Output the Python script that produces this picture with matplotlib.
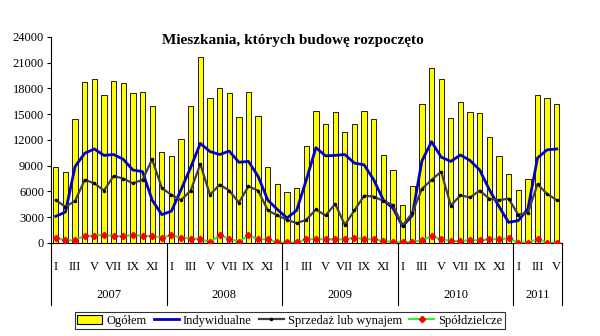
import matplotlib
matplotlib.use("Agg")
import matplotlib.pyplot as plt
from matplotlib.patches import Patch
from matplotlib.lines import Line2D
import numpy as np

plt.rcParams['font.family'] = ['Liberation Serif', 'DejaVu Serif']

# monthly data, Jan 2007 - May 2011 (thousands of dwellings)
years = ['2007', '2008', '2009', '2010', '2011']
months_per_year = [12, 12, 12, 12, 5]
month_names = ['I', 'II', 'III', 'IV', 'V', 'VI', 'VII', 'VIII', 'IX', 'X', 'XI', 'XII']

ogolem = [8.8, 8.25, 14.4, 18.7, 19.05, 17.2, 18.9, 18.6, 17.45, 17.6, 15.9, 10.55,
          10.1, 12.15, 15.9, 21.7, 16.9, 18.0, 17.45, 14.7, 17.6, 14.8, 8.8, 6.9,
          5.9, 6.35, 11.3, 15.4, 13.8, 15.2, 12.9, 13.8, 15.4, 14.4, 10.2, 8.5,
          4.45, 6.6, 16.2, 20.4, 19.05, 14.5, 16.4, 15.2, 15.1, 12.3, 10.1, 8.05,
          6.2, 7.4, 17.2, 16.9, 16.2]
indywidualne = [3.1, 3.6, 8.9, 10.45, 10.95, 10.2, 10.3, 9.75, 8.5, 8.3, 5.0, 3.3,
                3.7, 6.2, 8.8, 11.6, 10.65, 10.3, 10.7, 9.4, 9.5, 7.75, 5.0, 3.9,
                2.9, 3.8, 7.35, 11.1, 10.15, 10.2, 10.3, 9.3, 9.1, 7.35, 5.0, 4.05,
                1.95, 3.2, 9.55, 11.8, 10.0, 9.5, 10.25, 9.6, 8.5, 6.2, 4.25, 2.4,
                2.6, 3.95, 9.9, 10.85, 10.95]
sprzedaz = [5.0, 4.2, 4.9, 7.35, 6.95, 6.1, 7.8, 7.5, 6.95, 7.35, 9.75, 6.4,
            5.6, 5.0, 6.1, 9.2, 5.6, 6.8, 6.1, 4.7, 6.6, 6.1, 3.8, 3.2,
            2.7, 2.3, 2.7, 3.9, 3.2, 4.55, 2.1, 3.8, 5.5, 5.4, 4.9, 4.4,
            2.0, 3.5, 6.3, 7.35, 8.3, 4.35, 5.55, 5.3, 6.1, 5.15, 5.0, 5.15,
            3.3, 3.5, 6.85, 5.7, 5.0]
spoldzielcze = [0.62, 0.31, 0.31, 0.85, 0.85, 0.97, 0.78, 0.78, 0.93, 0.82, 0.82, 0.62,
                0.9, 0.62, 0.5, 0.5, 0.05, 0.9, 0.5, 0.12, 0.9, 0.43, 0.43, 0.05,
                0.05, 0.05, 0.43, 0.43, 0.43, 0.43, 0.4, 0.62, 0.43, 0.43, 0.23, 0.12,
                0.12, 0.12, 0.31, 0.78, 0.43, 0.23, 0.23, 0.31, 0.31, 0.43, 0.43, 0.54,
                0.04, 0.04, 0.43, 0.04, 0.04]

scale = 1000
ogolem = np.array(ogolem) * scale
indywidualne = np.array(indywidualne) * scale
sprzedaz = np.array(sprzedaz) * scale
spoldzielcze = np.array(spoldzielcze) * scale
x = np.arange(len(ogolem))

fig = plt.figure(figsize=(6, 3.36), dpi=100)
ax = fig.add_axes([0.085, 0.277, 0.851, 0.613])

ax.bar(x, ogolem, width=0.55, color='#ffff00', edgecolor='#202000', linewidth=0.7, zorder=2)
ax.plot(x, indywidualne, color='#0000cc', lw=2.0, zorder=3)
ax.plot(x, sprzedaz, color='#404040', lw=1.6, marker='o', ms=1.5, mfc='black', mec='black', zorder=4)
ax.plot(x, spoldzielcze, color='#33ee33', lw=1.5, marker='D', ms=3.2, mfc='red', mec='red', zorder=5)

ax.set_xlim(-0.5, len(x) - 0.5)
ax.set_ylim(0, 24000)
ax.set_yticks(np.arange(0, 24001, 3000))
ax.tick_params(axis='y', labelsize=9, length=3, width=0.8, pad=2)
ax.set_xticks([])
for s in ['top', 'right']:
    ax.spines[s].set_visible(False)
ax.spines['left'].set_linewidth(0.8)
ax.spines['bottom'].set_linewidth(0.8)

# two-level category axis: months and years
trans = ax.get_xaxis_transform()
start = 0
bounds = [-0.5]
for yr, n in zip(years, months_per_year):
    for m in range(0, n, 2):
        ax.text(start + m, -0.115, month_names[m], transform=trans,
                ha='center', va='center', fontsize=9)
    ax.text(start + (n - 1) / 2, -0.255, yr, transform=trans,
            ha='center', va='center', fontsize=9)
    start += n
    bounds.append(start - 0.5)
for b in bounds:
    ax.plot([b, b], [0, -0.3], transform=trans, color='black', lw=0.8, clip_on=False)

fig.text(0.488, 0.88, 'Mieszkania, których budowę rozpoczęto', ha='center', va='center',
         fontsize=11, fontweight='bold')

handles = [
    Patch(facecolor='#ffff00', edgecolor='black', linewidth=0.8),
    Line2D([], [], color='#0000cc', lw=2.0),
    Line2D([], [], color='#404040', lw=1.6, marker='o', ms=1.5, mfc='black', mec='black'),
    Line2D([], [], color='#33ee33', lw=1.5, marker='D', ms=3.2, mfc='red', mec='red'),
]
labels = ['Ogółem', 'Indywidualne', 'Sprzedaż lub wynajem', 'Spółdzielcze']
leg = fig.legend(handles, labels, loc='center', bbox_to_anchor=(0.483, 0.046), ncol=4,
                 fontsize=9, frameon=True, fancybox=False, edgecolor='black',
                 handlelength=2.0, handletextpad=0.3, columnspacing=0.6,
                 borderpad=0.2, borderaxespad=0)
leg.get_frame().set_linewidth(0.8)

fig.savefig('out.png', dpi=100)
